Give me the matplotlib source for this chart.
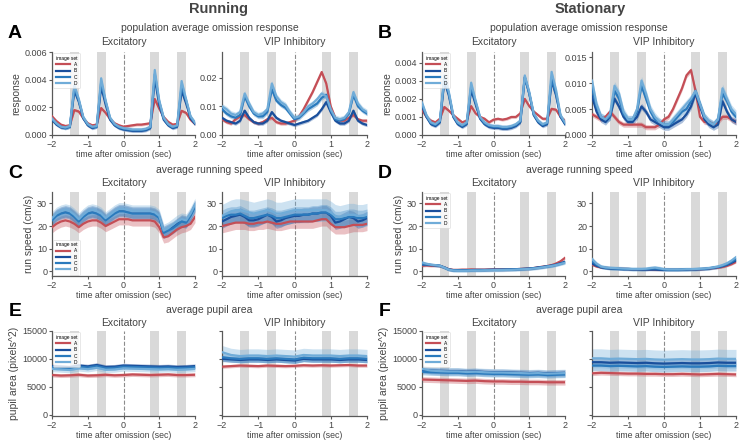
import numpy as np
import matplotlib
matplotlib.use("Agg")
import matplotlib.pyplot as plt
from matplotlib.ticker import FormatStrFormatter

plt.rcParams["font.family"] = ["Liberation Sans", "DejaVu Sans"]

# ------------------------------------------------------------------------------
# Data
# ------------------------------------------------------------------------------

t_fast = np.arange(-2, 2.001, 0.125)   # 33 samples
t_slow = np.arange(-2, 2.001, 0.25)    # 17 samples

image_sets = ["A", "B", "C", "D"]
set_colors = ["#c44e56", "#1a4f9c", "#2a7abd", "#70acd8"]
flash_onsets = [-1.5, -0.75, 0.75, 1.5]
flash_dur = 0.25

# population response, running, excitatory (x 1e-3)
resp_run_exc = [
    [1.35, 1.0, 0.75, 0.65, 0.7, 1.8, 1.7, 1.2, 0.85, 0.7, 0.75, 1.95, 1.6, 1.15, 0.85, 0.7, 0.6,
     0.65, 0.7, 0.75, 0.75, 0.8, 0.85, 2.6, 1.9, 1.3, 0.95, 0.75, 0.8, 1.75, 1.6, 1.1, 0.8],
    [1.1, 0.75, 0.55, 0.5, 0.6, 3.2, 2.4, 1.2, 0.7, 0.5, 0.6, 3.5, 2.2, 1.1, 0.7, 0.5, 0.4,
     0.35, 0.3, 0.3, 0.3, 0.35, 0.5, 4.1, 2.2, 1.1, 0.7, 0.5, 0.6, 3.2, 2.3, 1.2, 0.8],
    [1.15, 0.8, 0.6, 0.5, 0.6, 3.4, 2.5, 1.25, 0.75, 0.55, 0.6, 3.8, 2.4, 1.2, 0.75, 0.55, 0.45,
     0.4, 0.35, 0.35, 0.35, 0.4, 0.55, 4.4, 2.4, 1.2, 0.75, 0.55, 0.65, 3.5, 2.5, 1.3, 0.85],
    [1.2, 0.85, 0.6, 0.55, 0.65, 3.6, 2.6, 1.3, 0.8, 0.6, 0.65, 4.1, 2.5, 1.25, 0.8, 0.6, 0.5,
     0.45, 0.4, 0.4, 0.4, 0.45, 0.6, 4.7, 2.5, 1.25, 0.8, 0.6, 0.7, 3.9, 2.6, 1.35, 0.9],
]
resp_run_exc_sem = [0.1, 0.12, 0.12, 0.15]

# population response, running, VIP (x 1e-2)
resp_run_vip = [
    [0.55, 0.45, 0.4, 0.55, 0.65, 0.7, 0.55, 0.45, 0.4, 0.45, 0.55, 0.6, 0.45, 0.4, 0.4, 0.45, 0.5,
     0.65, 0.9, 1.2, 1.5, 1.85, 2.2, 1.8, 1.0, 0.6, 0.5, 0.5, 0.6, 0.7, 0.55, 0.5, 0.5],
    [0.6, 0.5, 0.45, 0.4, 0.5, 0.85, 0.6, 0.45, 0.4, 0.4, 0.5, 0.8, 0.6, 0.5, 0.45, 0.4, 0.35,
     0.4, 0.45, 0.5, 0.6, 0.7, 0.9, 1.15, 0.8, 0.5, 0.4, 0.4, 0.5, 0.85, 0.5, 0.4, 0.35],
    [0.9, 0.75, 0.65, 0.6, 0.7, 1.35, 1.0, 0.75, 0.65, 0.65, 0.8, 1.6, 1.2, 1.05, 0.95, 0.75, 0.55,
     0.6, 0.75, 0.9, 1.0, 1.1, 1.3, 1.4, 0.85, 0.55, 0.5, 0.55, 0.75, 1.4, 1.0, 0.85, 0.75],
    [1.0, 0.9, 0.75, 0.7, 0.8, 1.45, 1.1, 0.8, 0.7, 0.75, 0.9, 1.8, 1.35, 1.15, 1.05, 0.8, 0.6,
     0.65, 0.8, 1.0, 1.1, 1.25, 1.45, 1.35, 0.9, 0.6, 0.55, 0.6, 0.8, 1.5, 1.1, 0.9, 0.8],
]
resp_run_vip_sem = [0.06, 0.06, 0.08, 0.1]

# population response, stationary, excitatory (x 1e-3)
resp_stat_exc = [
    [1.4, 1.0, 0.8, 0.7, 0.9, 1.55, 1.35, 1.1, 0.9, 0.7, 0.8, 1.6, 1.2, 1.0, 0.9, 0.7, 0.85,
     0.9, 0.85, 0.9, 1.0, 1.0, 1.2, 2.0, 1.6, 1.3, 1.1, 0.9, 0.9, 1.45, 1.4, 1.0, 0.8],
    [1.6, 1.0, 0.6, 0.5, 0.7, 3.0, 2.2, 1.0, 0.6, 0.45, 0.6, 2.5, 1.7, 0.9, 0.6, 0.45, 0.4,
     0.4, 0.35, 0.35, 0.4, 0.5, 0.7, 3.2, 2.3, 1.1, 0.7, 0.5, 0.6, 3.0, 2.2, 1.0, 0.6],
    [1.7, 1.05, 0.65, 0.55, 0.75, 3.1, 2.3, 1.05, 0.65, 0.5, 0.65, 2.7, 1.8, 0.95, 0.65, 0.5, 0.45,
     0.45, 0.4, 0.4, 0.45, 0.55, 0.75, 3.2, 2.3, 1.15, 0.75, 0.55, 0.65, 3.1, 2.3, 1.05, 0.65],
    [1.8, 1.1, 0.7, 0.6, 0.8, 3.3, 2.4, 1.1, 0.7, 0.55, 0.7, 2.9, 1.9, 1.0, 0.7, 0.55, 0.5,
     0.5, 0.45, 0.45, 0.5, 0.6, 0.8, 3.3, 2.4, 1.2, 0.8, 0.6, 0.7, 3.5, 2.5, 1.1, 0.7],
]
resp_stat_exc_sem = [0.08, 0.1, 0.1, 0.12]

# population response, stationary, VIP (x 1e-2)
resp_stat_vip = [
    [0.4, 0.35, 0.3, 0.35, 0.45, 0.35, 0.25, 0.2, 0.2, 0.2, 0.2, 0.2, 0.15, 0.15, 0.15, 0.2, 0.3,
     0.35, 0.5, 0.7, 0.9, 1.15, 1.25, 0.85, 0.35, 0.25, 0.25, 0.2, 0.25, 0.35, 0.35, 0.3, 0.25],
    [0.75, 0.45, 0.3, 0.25, 0.35, 0.7, 0.55, 0.35, 0.25, 0.25, 0.35, 0.55, 0.45, 0.3, 0.25, 0.2, 0.15,
     0.15, 0.2, 0.25, 0.3, 0.4, 0.55, 0.8, 0.55, 0.3, 0.2, 0.15, 0.2, 0.65, 0.45, 0.3, 0.25],
    [0.9, 0.55, 0.35, 0.3, 0.35, 0.85, 0.7, 0.4, 0.3, 0.3, 0.45, 0.95, 0.7, 0.45, 0.3, 0.25, 0.2,
     0.2, 0.25, 0.35, 0.45, 0.5, 0.65, 0.85, 0.6, 0.35, 0.25, 0.2, 0.3, 0.8, 0.65, 0.45, 0.35],
    [1.05, 0.6, 0.35, 0.3, 0.4, 0.95, 0.8, 0.45, 0.3, 0.3, 0.5, 1.05, 0.8, 0.5, 0.35, 0.25, 0.2,
     0.2, 0.3, 0.4, 0.5, 0.6, 0.7, 0.85, 0.6, 0.35, 0.25, 0.2, 0.3, 0.9, 0.7, 0.5, 0.4],
]
resp_stat_vip_sem = [0.05, 0.06, 0.07, 0.08]

# running speed (cm/s)
speed_run_exc = [
    [19.5, 21, 22, 22.5, 22, 21, 19.5, 21, 22, 22.5, 22.5, 21.5, 20, 21, 22, 23, 23,
     23, 22.5, 22.5, 22.5, 22.5, 22.5, 22, 19.5, 15, 15.5, 17, 18.5, 19.5, 20, 21, 24],
    [23, 25, 26, 26.5, 26, 24.5, 22.5, 24.5, 26, 26.5, 26, 25, 23, 24.5, 26, 27, 27,
     26.5, 26, 26, 26, 26, 26, 25.5, 24, 17.5, 18.5, 19.5, 21, 22.5, 22, 25, 29],
    [22.5, 24.5, 25.5, 26, 25.5, 24, 22, 24, 25.5, 26, 25.5, 24.5, 22.5, 24, 25.5, 26.5, 26.5,
     26, 25.5, 25.5, 25.5, 25.5, 25.5, 25, 23.5, 17, 18, 19, 20.5, 22, 21.5, 24.5, 28.5],
    [23.5, 25.5, 26.5, 27, 26.5, 25, 23, 25, 26.5, 27, 26.5, 25.5, 23.5, 25, 26.5, 27.5, 27.5,
     27, 26.5, 26.5, 26.5, 26.5, 26.5, 26, 24.5, 18, 19, 20.5, 22, 23, 22.5, 25.5, 29.5],
]
speed_run_exc_sem = [2.5, 2.5, 2.5, 2.8]

speed_run_vip = [
    [20, 20.5, 21, 21.5, 21.5, 21.5, 21, 21, 21.5, 21.5, 22, 21.5, 21, 21, 21.5, 22, 22,
     22, 22, 22, 22, 22.5, 23, 23, 21, 19.5, 19.5, 19.5, 20, 20.5, 20.5, 20.5, 21],
    [22, 23, 24, 24.5, 25, 24, 22.5, 22.5, 23, 24, 25, 24, 22, 22.5, 23.5, 24, 24.5,
     24.5, 25, 25, 25.5, 25.5, 26, 26, 24.5, 21.5, 22, 23, 24, 23.5, 22, 22.5, 23.5],
    [23.5, 24.5, 25, 25, 25.5, 24.5, 23.5, 23.5, 24, 24.5, 25, 24.5, 23.5, 23.5, 24, 24.5, 25,
     25, 25, 25, 25.5, 25.5, 26, 26, 25, 23, 23, 23.5, 24, 24, 23.5, 23.5, 24],
    [24.5, 25.5, 26.5, 27, 27, 26.5, 26, 25.5, 26, 26.5, 27, 26.5, 25.5, 25.5, 26, 26.5, 27,
     27, 27, 27, 27, 27, 27, 27, 26, 24.5, 24, 24.5, 25, 25, 24.5, 24.5, 25],
]
speed_run_vip_sem = [3, 3, 3.5, 5]

speed_stat_exc = [
    [2.5, 2.7, 2.5, 2.6, 2.4, 1.8, 1.0, 0.7, 0.7, 0.8, 0.8, 0.9, 0.8, 0.8, 0.8, 0.9, 0.9,
     0.9, 0.9, 0.9, 1.0, 1.0, 1.1, 1.2, 1.3, 1.5, 1.8, 2.1, 2.4, 2.8, 3.5, 4.5, 6.0],
    [3.0, 3.0, 2.8, 2.7, 2.5, 1.8, 0.9, 0.6, 0.6, 0.6, 0.6, 0.6, 0.7, 0.7, 0.7, 0.7, 0.8,
     0.8, 0.8, 0.9, 0.9, 1.0, 1.1, 1.2, 1.3, 1.5, 1.8, 2.0, 2.3, 2.6, 3.0, 3.6, 4.3],
    [3.2, 3.1, 2.9, 2.7, 2.5, 1.7, 0.8, 0.5, 0.5, 0.5, 0.5, 0.6, 0.6, 0.6, 0.6, 0.7, 0.7,
     0.7, 0.8, 0.8, 0.9, 0.9, 1.0, 1.1, 1.2, 1.4, 1.6, 1.9, 2.2, 2.5, 2.9, 3.4, 4.0],
    [4.0, 3.4, 3.0, 2.8, 2.5, 1.7, 0.8, 0.4, 0.3, 0.3, 0.3, 0.4, 0.4, 0.4, 0.5, 0.5, 0.6,
     0.6, 0.6, 0.7, 0.7, 0.8, 0.9, 1.0, 1.1, 1.3, 1.5, 1.8, 2.1, 2.4, 2.8, 3.3, 3.8],
]
speed_stat_exc_sem = [0.6, 0.6, 0.6, 0.7]

speed_stat_vip = [
    [3.0, 2.2, 1.8, 1.6, 1.5, 1.4, 1.3, 1.2, 1.1, 1.0, 1.0, 0.9, 0.9, 0.9, 0.8, 0.8, 0.8,
     0.8, 0.8, 0.8, 0.8, 0.9, 0.9, 1.0, 1.0, 1.1, 1.3, 1.5, 1.7, 2.0, 2.5, 3.2, 4.2],
    [3.5, 2.5, 1.8, 1.5, 1.3, 1.2, 1.1, 1.0, 1.0, 0.9, 0.9, 0.8, 0.8, 0.8, 0.8, 0.7, 0.7,
     0.7, 0.7, 0.7, 0.8, 0.8, 0.9, 0.9, 1.0, 1.1, 1.3, 1.6, 1.9, 2.3, 2.9, 3.8, 4.8],
    [4.5, 3.0, 2.0, 1.6, 1.4, 1.3, 1.2, 1.1, 1.1, 1.0, 1.0, 1.0, 1.0, 1.2, 1.3, 1.1, 0.9,
     0.8, 0.8, 0.8, 0.9, 0.9, 1.0, 1.0, 1.1, 1.2, 1.4, 1.7, 2.0, 2.5, 3.2, 4.2, 5.5],
    [5.5, 3.5, 2.2, 1.8, 1.6, 1.5, 1.4, 1.3, 1.2, 1.1, 1.1, 1.1, 1.2, 1.5, 1.7, 1.4, 1.0,
     0.9, 0.9, 0.9, 0.9, 1.0, 1.0, 1.1, 1.2, 1.3, 1.5, 1.8, 2.2, 2.8, 3.6, 4.8, 6.3],
]
speed_stat_vip_sem = [0.5, 0.5, 0.7, 0.9]

# pupil area (pixels^2)
pupil_run_exc = [
    [7100, 7000, 7050, 7150, 7000, 7050, 7150, 7050, 7100, 7200, 7150, 7100, 7150, 7200, 7100, 7100, 7150],
    [8700, 8600, 8500, 8800, 8650, 8900, 8550, 8600, 8800, 8750, 8700, 8650, 8600, 8650, 8550, 8600, 8700],
    [8500, 8400, 8300, 8600, 8450, 8700, 8350, 8400, 8600, 8550, 8500, 8450, 8400, 8450, 8350, 8400, 8500],
    [8200, 8100, 8000, 8300, 8150, 8400, 8050, 8100, 8300, 8250, 8200, 8150, 8100, 8150, 8050, 8100, 8200],
]
pupil_run_exc_sem = [350, 400, 400, 500]

pupil_run_vip = [
    [8600, 8700, 8800, 8750, 8700, 8800, 8750, 8700, 8750, 8850, 8800, 8850, 8800, 8850, 8900, 8800, 8800],
    [10000, 9900, 9800, 9900, 9900, 9800, 9900, 9800, 9700, 10000, 9900, 9900, 9900, 9800, 9900, 9900, 9800],
    [10300, 10100, 10000, 10100, 10100, 10000, 10100, 10000, 9900, 10200, 10100, 10100, 10100, 10000, 10100, 10100, 10000],
    [11200, 10700, 10500, 10600, 10600, 10500, 10600, 10500, 10400, 10700, 10600, 10600, 10600, 10500, 10600, 10600, 10500],
]
pupil_run_vip_sem = [300, 500, 700, 1200]

pupil_stat_exc = [
    [6300, 6250, 6200, 6150, 6100, 6050, 6100, 6000, 5950, 5950, 5900, 5900, 5850, 5850, 5800, 5800, 5800],
    [8000, 7900, 7850, 7800, 7800, 7700, 7750, 7650, 7600, 7600, 7550, 7500, 7450, 7500, 7400, 7450, 7500],
    [7700, 7600, 7550, 7500, 7500, 7400, 7450, 7350, 7300, 7300, 7250, 7200, 7150, 7200, 7100, 7150, 7200],
    [8200, 7900, 7800, 7750, 7750, 7650, 7700, 7600, 7550, 7550, 7500, 7450, 7400, 7450, 7350, 7400, 7450],
]
pupil_stat_exc_sem = [500, 550, 550, 700]

pupil_stat_vip = [
    [7400, 7500, 7450, 7400, 7350, 7350, 7300, 7300, 7250, 7250, 7300, 7250, 7200, 7250, 7300, 7250, 7200],
    [9400, 9400, 9300, 9350, 9300, 9250, 9300, 9200, 9150, 9200, 9250, 9200, 9200, 9250, 9350, 9300, 9300],
    [8800, 8800, 8700, 8750, 8700, 8650, 8700, 8600, 8550, 8600, 8650, 8600, 8600, 8650, 8750, 8700, 8700],
    [10100, 10100, 10000, 10050, 10000, 9950, 10000, 9900, 9850, 9900, 9950, 9900, 9900, 9950, 10050, 10000, 10000],
]
pupil_stat_vip_sem = [400, 700, 900, 1700]

# ------------------------------------------------------------------------------
# Figure layout (pixel based)
# ------------------------------------------------------------------------------

W, H = 750, 442
fig = plt.figure(figsize=(W / 100, H / 100), dpi=100)

TXT = "#444444"
col_px = [(52, 195), (222, 367), (422, 565), (592, 736)]
row_px = [(52, 135), (192, 276), (331, 416)]


def px_axes(x0, x1, y0, y1):
    return fig.add_axes([x0 / W, 1 - y1 / H, (x1 - x0) / W, (y1 - y0) / H])


def px_text(x, y, s, **kw):
    fig.text(x / W, 1 - y / H, s, ha="center", va="center", color=TXT, **kw)


def draw_panel(ax, t, lines, sems, scale, ylim, yticks, fmt, ylabel=None,
               legend_loc=None, show_yticklabels=True):
    for lo in flash_onsets:
        ax.axvspan(lo, lo + flash_dur, color="#d9d9d9", lw=0, zorder=0)
    ax.axvline(0, color="0.55", ls="--", lw=0.8, zorder=1)
    for name, vals, sem, c in zip(image_sets, lines, sems, set_colors):
        y = np.array(vals) * scale
        s = sem * scale
        ax.fill_between(t, y - s, y + s, color=c, alpha=0.35, lw=0, zorder=2)
        ax.plot(t, y, color=c, lw=1.6, label=name, zorder=3)
    ax.set_xlim(-2, 2)
    ax.set_ylim(*ylim)
    ax.set_xticks([-2, -1, 0, 1, 2])
    ax.set_yticks(yticks)
    if fmt:
        ax.yaxis.set_major_formatter(FormatStrFormatter(fmt))
    if not show_yticklabels:
        ax.set_yticklabels([])
    for side in ["top", "right"]:
        ax.spines[side].set_visible(False)
    for side in ["left", "bottom"]:
        ax.spines[side].set_color("0.35")
        ax.spines[side].set_linewidth(0.9)
    ax.tick_params(labelsize=6.5, colors="0.35", labelcolor=TXT, length=2.5,
                   width=0.8, pad=1)
    ax.set_xlabel("time after omission (sec)", fontsize=6.3, color=TXT, labelpad=0.5)
    if ylabel:
        ax.set_ylabel(ylabel, fontsize=7.5, color=TXT, labelpad=2)
    if legend_loc:
        leg = ax.legend(title="image set", loc=legend_loc, fontsize=3.5,
                        title_fontsize=3.5, frameon=True, handlelength=2.8,
                        labelspacing=0.25, borderpad=0.5, borderaxespad=0.3)
        leg.get_frame().set_linewidth(0.4)
        leg.get_frame().set_edgecolor("0.8")


# ------------------------------------------------------------------------------
# Panels
# ------------------------------------------------------------------------------

rows = [
    dict(title="population average omission response", ylabel="response",
         panels=[
             (t_fast, resp_run_exc, resp_run_exc_sem, 1e-3, (0, 0.006),
              [0, 0.002, 0.004, 0.006], "%.3f", True),
             (t_fast, resp_run_vip, resp_run_vip_sem, 1e-2, (0, 0.029),
              [0, 0.01, 0.02], "%.2f", True),
             (t_fast, resp_stat_exc, resp_stat_exc_sem, 1e-3, (0, 0.0046),
              [0, 0.001, 0.002, 0.003, 0.004], "%.3f", True),
             (t_fast, resp_stat_vip, resp_stat_vip_sem, 1e-2, (0, 0.016),
              [0, 0.005, 0.010, 0.015], "%.3f", True),
         ], legend=("upper left", "upper left"), letters="AB"),
    dict(title="average running speed", ylabel="run speed (cm/s)",
         panels=[
             (t_fast, speed_run_exc, speed_run_exc_sem, 1, (-2, 35), [0, 10, 20, 30], None, True),
             (t_fast, speed_run_vip, speed_run_vip_sem, 1, (-2, 35), [0, 10, 20, 30], None, True),
             (t_fast, speed_stat_exc, speed_stat_exc_sem, 1, (-2, 35), [0, 10, 20, 30], None, True),
             (t_fast, speed_stat_vip, speed_stat_vip_sem, 1, (-2, 35), [0, 10, 20, 30], None, True),
         ], legend=("lower left", "upper left"), letters="CD"),
    dict(title="average pupil area", ylabel="pupil area (pixels^2)",
         panels=[
             (t_slow, pupil_run_exc, pupil_run_exc_sem, 1, (-250, 15000),
              [0, 5000, 10000, 15000], None, True),
             (t_slow, pupil_run_vip, pupil_run_vip_sem, 1, (-250, 15000),
              [0, 5000, 10000, 15000], None, False),
             (t_slow, pupil_stat_exc, pupil_stat_exc_sem, 1, (-250, 15000),
              [0, 5000, 10000, 15000], None, True),
             (t_slow, pupil_stat_vip, pupil_stat_vip_sem, 1, (-250, 15000),
              [0, 5000, 10000, 15000], None, False),
         ], legend=("upper left", "upper left"), letters="EF"),
]

title_y = [28, 170, 310]
sub_y = [42, 183, 323]
letter_y = [34, 173, 311]

for r, row in enumerate(rows):
    y0, y1 = row_px[r]
    for c, (t, lines, sems, scale, ylim, yticks, fmt, show_lbl) in enumerate(row["panels"]):
        x0, x1 = col_px[c]
        ax = px_axes(x0, x1, y0, y1)
        is_exc = c % 2 == 0
        draw_panel(ax, t, lines, sems, scale, ylim, yticks, fmt,
                   ylabel=row["ylabel"] if is_exc else None,
                   legend_loc=row["legend"][c // 2] if is_exc else None,
                   show_yticklabels=show_lbl)
        px_text((x0 + x1) / 2, sub_y[r], "Excitatory" if is_exc else "VIP Inhibitory",
                fontsize=7.5)
    # group titles
    px_text((col_px[0][0] + col_px[1][1]) / 2, title_y[r], row["title"], fontsize=7.5)
    px_text((col_px[2][0] + col_px[3][1]) / 2, title_y[r], row["title"], fontsize=7.5)
    # panel letters
    fig.text(15 / W, 1 - letter_y[r] / H, row["letters"][0], fontsize=14,
             fontweight="bold", ha="center", va="center", color="black")
    fig.text(385 / W, 1 - letter_y[r] / H, row["letters"][1], fontsize=14,
             fontweight="bold", ha="center", va="center", color="black")

px_text(218, 9, "Running", fontsize=10.5, fontweight="bold")
px_text(590, 9, "Stationary", fontsize=10.5, fontweight="bold")

fig.savefig("out.png", dpi=100)
